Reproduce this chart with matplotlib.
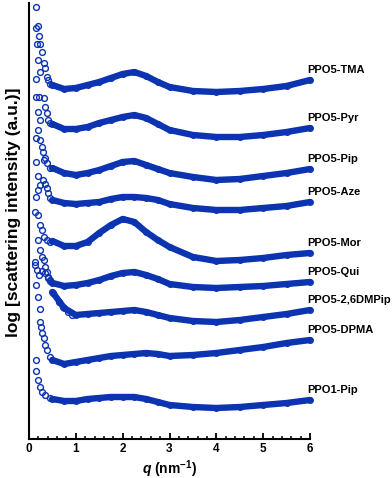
import numpy as np
import matplotlib
matplotlib.use('Agg')
import matplotlib.pyplot as plt
from matplotlib.ticker import MultipleLocator

plt.rcParams['font.family'] = ['Liberation Sans', 'DejaVu Sans']
plt.rcParams['mathtext.fontset'] = 'custom'
plt.rcParams['mathtext.it'] = 'Liberation Sans:italic:bold'
plt.rcParams['mathtext.rm'] = 'Liberation Sans:bold'
plt.rcParams['mathtext.bf'] = 'Liberation Sans:bold'

BLUE = '#0c33b0'

names = ['PPO5-TMA', 'PPO5-Pyr', 'PPO5-Pip', 'PPO5-Aze', 'PPO5-Mor',
         'PPO5-Qui', 'PPO5-2,6DMPip', 'PPO5-DPMA', 'PPO1-Pip']

# q grid of the smooth part of every curve
q_band = [0.5, 0.75, 1.0, 1.25, 1.5, 1.75, 2.0, 2.25, 2.5, 2.75,
          3.0, 3.5, 4.0, 4.5, 5.0, 5.5, 6.0]

# log intensity (a.u., curves offset)
tma_band = [354, 350, 351, 354, 357, 361, 365, 367, 363, 357, 352, 348, 347, 348, 350, 353, 359]
pyr_band = [315, 310, 310, 312, 316, 319, 322, 324, 321, 315, 309, 304, 302, 302, 304, 307, 311]
pip_band = [271, 266, 264, 266, 269, 273, 277, 278, 274, 270, 266, 262, 259, 260, 263, 266, 270]
aze_band = [239, 236, 235, 236, 237, 240, 242, 242, 241, 239, 235, 231, 229, 229, 231, 233, 237]
mor_band = [198, 193, 193, 197, 206, 214, 220, 217, 207, 199, 192, 182, 178, 179, 181, 184, 186]
qui_band = [156, 153, 154, 156, 159, 163, 166, 167, 164, 160, 155, 152, 151, 152, 153, 155, 157]
dmp_band = [147, 131, 124, 125, 126, 127, 128, 129, 127, 124, 121, 118, 117, 119, 122, 125, 129]
dpma_band = [79, 75, 77, 79, 81, 83, 84, 85, 86, 85, 83, 84, 86, 89, 92, 96, 99]
ppo1_band = [40, 38, 38, 40, 41, 42, 42, 42, 40, 37, 34, 32, 31, 32, 34, 36, 39]

# low-q upturn points
tma_q = [0.14, 0.16, 0.17, 0.19, 0.20, 0.21, 0.24, 0.24, 0.27, 0.31, 0.34, 0.38, 0.41, 0.45]
tma_up = [411, 432, 395, 413, 379, 403, 395, 367, 387, 376, 371, 362, 359, 355]
pyr_q = [0.14, 0.14, 0.20, 0.21, 0.24, 0.31, 0.34, 0.38, 0.41, 0.45]
pyr_up = [360, 342, 327, 342, 319, 341, 332, 326, 319, 316]
pip_q = [0.15, 0.20, 0.24, 0.27, 0.29, 0.31, 0.34, 0.38, 0.45]
pip_up = [301, 309, 299, 292, 287, 279, 281, 276, 271]
aze_q = [0.15, 0.16, 0.20, 0.20, 0.24, 0.30, 0.34, 0.38, 0.41, 0.45]
aze_up = [277, 242, 263, 249, 254, 259, 255, 251, 246, 241]
mor_q = [0.13, 0.20, 0.24, 0.27, 0.31, 0.38, 0.45]
mor_up = [227, 224, 214, 209, 202, 199, 197]
qui_q = [0.13, 0.17, 0.22, 0.28, 0.34, 0.41, 0.45]
qui_up = [177, 169, 164, 168, 166, 161, 158]
dmp_q = [0.20, 0.24, 0.27, 0.31, 0.34, 0.38, 0.41, 0.45, 0.52, 0.63, 0.73, 0.84, 0.91]
dmp_up = [199, 189, 182, 179, 172, 167, 162, 159, 146, 137, 132, 127, 124]
dpma_q = [0.13, 0.15, 0.19, 0.24, 0.24, 0.26, 0.27, 0.31, 0.34, 0.38, 0.45]
dpma_up = [174, 154, 142, 130, 117, 112, 106, 101, 94, 89, 82]
ppo1_q = [0.15, 0.16, 0.20, 0.24, 0.27, 0.34, 0.45]
ppo1_up = [79, 68, 59, 52, 47, 44, 41]

bands = [tma_band, pyr_band, pip_band, aze_band, mor_band, qui_band, dmp_band, dpma_band, ppo1_band]
ups = [(tma_q, tma_up), (pyr_q, pyr_up), (pip_q, pip_up), (aze_q, aze_up), (mor_q, mor_up),
       (qui_q, qui_up), (dmp_q, dmp_up), (dpma_q, dpma_up), (ppo1_q, ppo1_up)]

fig = plt.figure(figsize=(3.92, 4.78), dpi=100)
ax = fig.add_axes([29/392, 39/478, 281/392, 436/478])

for name, band, (uq, uy) in zip(names, bands, ups):
    # dense data -> thick ribbon of overlapping circles
    ax.plot(q_band, band, '-', color=BLUE, lw=4.6, solid_joinstyle='round',
            solid_capstyle='round', clip_on=False)
    ax.plot(q_band, band, 'o', mfc='none', mec=BLUE, ms=4.0, mew=1.0, clip_on=False)
    ax.plot(uq, uy, 'o', mfc='none', mec=BLUE, ms=4.2, mew=1.0, clip_on=False)
    ax.text(5.94, band[-1] + 10, name, fontsize=8, fontweight='bold',
            ha='left', va='center', clip_on=False)

ax.set_xlim(0, 6)
ax.set_ylim(0, 436)
ax.set_yticks([])
ax.xaxis.set_major_locator(MultipleLocator(1))
ax.xaxis.set_minor_locator(MultipleLocator(0.2))
ax.tick_params(axis='x', which='major', direction='in', length=4, width=1.3,
               labelsize=8.5, pad=3)
ax.tick_params(axis='x', which='minor', direction='in', length=2.5, width=1.1)
for lab in ax.get_xticklabels():
    lab.set_fontweight('bold')

for s in ['top', 'right']:
    ax.spines[s].set_visible(False)
ax.spines['left'].set_linewidth(1.5)
ax.spines['bottom'].set_linewidth(1.5)

ax.set_ylabel('log [scattering intensity (a.u.)]', fontsize=12.5, fontweight='bold')
ax.yaxis.set_label_coords(-0.03, 0.52)
ax.set_xlabel(r'$\mathit{q}$ (nm$^{-1}$)', fontsize=10, fontweight='bold', labelpad=2)

plt.savefig('out.png', dpi=100)
